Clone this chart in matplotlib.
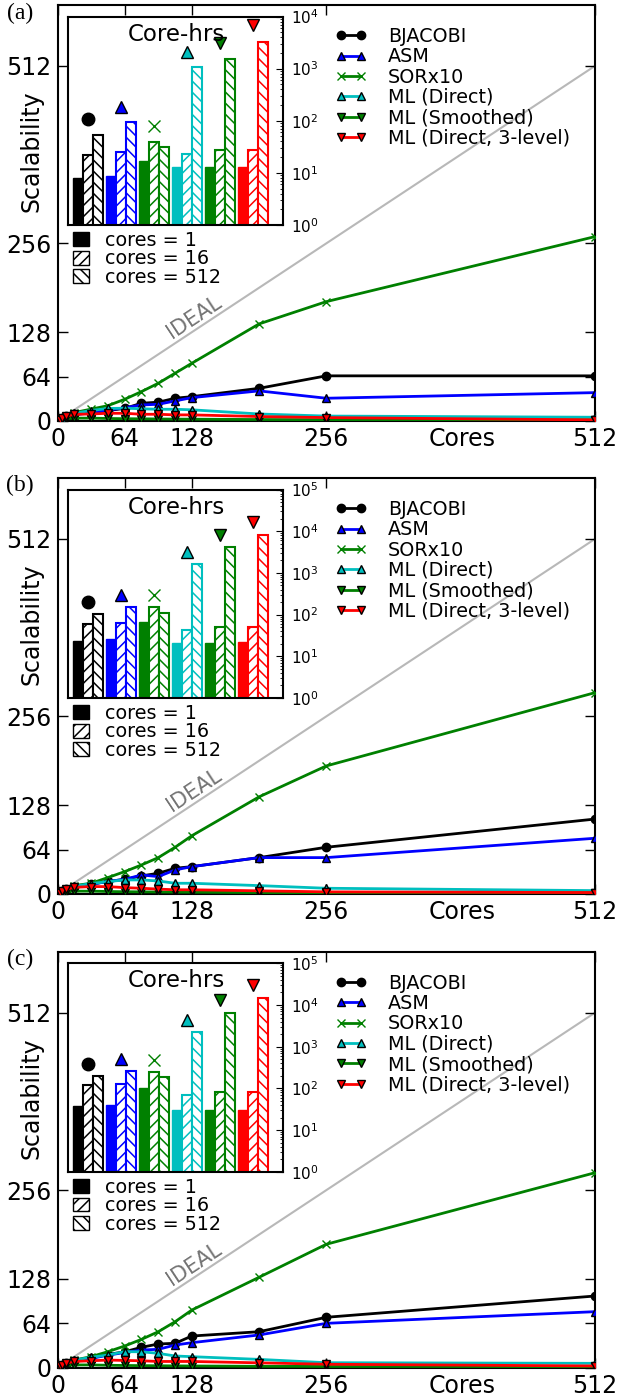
import matplotlib
matplotlib.use('Agg')
import matplotlib.pyplot as plt
from matplotlib.patches import Patch
import numpy as np

# ---------------- data ----------------
cores = [1, 2, 4, 8, 16, 32, 48, 64, 80, 96, 112, 128, 192, 256, 512]
methods = ['BJACOBI', 'ASM', 'SORx10', 'ML (Direct)', 'ML (Smoothed)', 'ML (Direct, 3-level)']
panel_labels = ['(a)', '(b)', '(c)']
x_ticks = [0, 64, 128, 256, 512]
y_ticks = [0, 64, 128, 256, 512]
ideal_x = [0, 512]
ideal_y = [0, 512]
bar_core_labels = ['cores = 1', 'cores = 16', 'cores = 512']

# panel (a) scalability
a_bjacobi = [1, 2, 3.9, 7, 9.5, 12, 15, 18, 25.5, 27, 32.7, 35, 47, 65, 65]
a_asm = [1, 2, 3.8, 6.8, 9, 11.5, 15.5, 19, 23, 24, 28.8, 33.6, 43.3, 32.7, 40.8]
a_sor = [1, 2, 3.8, 7, 12, 17, 22, 31.2, 42.3, 54.3, 68.8, 83.2, 139.9, 172, 265.8]
a_mld = [1, 2, 3.8, 7, 11, 15, 18, 18.3, 17.5, 16.8, 16.8, 16, 10, 7, 5.3]
a_mls = [1, 1.6, 2.5, 3.5, 4, 4, 3.5, 3.2, 3, 2.8, 2.6, 2.5, 2, 1.8, 1.5]
a_mld3 = [1, 2, 3.7, 6.5, 9.5, 10, 11, 11, 9.6, 9.6, 8.7, 8.7, 6.3, 4.8, 1.5]

# panel (b) scalability
b_bjacobi = [1, 2, 3.9, 7, 10, 14, 18, 21, 26, 29.8, 37, 39.4, 52.4, 67.3, 108]
b_asm = [1, 2, 3.9, 7, 10, 14, 18, 21, 27.4, 25, 34.6, 39.4, 52.4, 52.4, 80.3]
b_sor = [1, 2, 3.9, 7, 12, 15.4, 23.6, 32.2, 41.8, 52.4, 67.3, 84, 140, 184.6, 290.3]
b_mld = [1, 2, 3.8, 7, 11, 15, 17.8, 20.2, 20.2, 18.7, 15.4, 15.4, 12, 8.2, 4.8]
b_mls = [1, 1.6, 2.5, 3.5, 4, 4, 3.5, 3.2, 3, 2.8, 2.6, 2.5, 2, 1.8, 1.5]
b_mld3 = [1, 2, 3.7, 6.5, 9.5, 10.6, 10.6, 9.1, 8.2, 7, 6, 6, 4.5, 3, 2]

# panel (c) scalability
c_bjacobi = [1, 2, 3.9, 7, 10, 14, 19, 23, 29.4, 34.2, 35.2, 45.7, 51.9, 72.7, 103.4]
c_asm = [1, 2, 3.9, 7, 10, 13.5, 18, 22, 25.5, 26.5, 32.7, 36.1, 47.2, 64, 80.8]
c_sor = [1, 2, 3.9, 7, 11, 15.9, 23.1, 31.3, 40.9, 51.9, 66.3, 83.2, 130.4, 178, 281.2]
c_mld = [1, 2, 3.8, 7, 11, 15, 18.3, 23.1, 23, 20.7, 16.9, 15.9, 12, 7.2, 6.3]
c_mls = [1, 1.6, 2.5, 3.5, 4, 4, 3.5, 3.2, 3, 2.8, 2.6, 2.5, 2, 1.8, 1.5]
c_mld3 = [1, 2, 3.7, 6.5, 9, 10, 11, 10.5, 10, 9, 9, 9, 7, 5, 2.5]

# core-hours insets (per method)
a_ch1 = [7.8, 8.7, 16.8, 12.9, 12.9, 12.9]
a_ch16 = [22.5, 25, 39, 23.5, 27.7, 27.7]
a_ch512 = [54, 95, 31.5, 1070, 1510, 3310]
a_chmark = [107, 184, 79, 2080, 3100, 6740]

b_ch1 = [22.8, 25.5, 65.3, 20.4, 20.4, 21.5]
b_ch16 = [59.6, 61.8, 153, 42.7, 51.4, 51.4]
b_ch512 = [106, 153, 112, 1633, 4110, 8010]
b_chmark = [202, 292, 292, 3120, 8160, 16500]

c_ch1 = [38.8, 41, 101, 31, 31, 31]
c_ch16 = [120, 129, 242, 71, 83, 83]
c_ch512 = [197, 265, 187, 2260, 6490, 14600]
c_chmark = [377, 516, 471, 4320, 13100, 30100]

inset_top = [1e4, 1e5, 1e5]

# ---------------- styles ----------------
colors = ['k', 'b', 'g', 'c', 'g', 'r']
markers = ['o', '^', 'x', '^', 'v', 'v']
mecs = ['k', 'k', 'g', 'k', 'k', 'k']

plt.rcParams['hatch.linewidth'] = 1.1

panels = [
    ([a_bjacobi, a_asm, a_sor, a_mld, a_mls, a_mld3], [a_ch1, a_ch16, a_ch512], a_chmark),
    ([b_bjacobi, b_asm, b_sor, b_mld, b_mls, b_mld3], [b_ch1, b_ch16, b_ch512], b_chmark),
    ([c_bjacobi, c_asm, c_sor, c_mld, c_mls, c_mld3], [c_ch1, c_ch16, c_ch512], c_chmark),
]

fig = plt.figure(figsize=(6.19, 13.97), dpi=100)
bottoms = [0.6987, 0.3601, 0.02097]
label_y = [1 - 13 / 1397, 1 - 485 / 1397, 1 - 959 / 1397]

hatches = [None, '///', '\\\\\\']

for p, (series, bars, marks) in enumerate(panels):
    ax = fig.add_axes([0.0929, bottoms[p], 0.8683, 0.2978])
    ax.plot(ideal_x, ideal_y, color='0.72', lw=1.5, zorder=1)
    handles = []
    for k, vals in enumerate(series):
        ln, = ax.plot(cores, vals, color=colors[k], marker=markers[k], mfc=colors[k],
                      mec=mecs[k], lw=2, ms=6, mew=1, label=methods[k], zorder=2 + k)
        handles.append(ln)
    ax.set_xlim(0, 512)
    ax.set_ylim(0, 600)
    ax.set_xticks(x_ticks)
    ax.set_yticks(y_ticks)
    ax.tick_params(direction='in', length=7, width=1, top=True, right=True,
                   labelsize=17, pad=4.5)
    for s in ax.spines.values():
        s.set_linewidth(1.5)
    ax.set_ylabel('Scalability', fontsize=17)
    ax.yaxis.set_label_coords(-0.0264, 0.648)
    ax.set_xlabel('Cores', fontsize=17)
    ax.xaxis.set_label_coords(0.752, -0.0144)
    ax.text(130, 149, 'IDEAL', rotation=33.4, color='0.45', fontsize=15,
            ha='center', va='center', rotation_mode='anchor')

    leg1 = ax.legend(handles, methods, loc='upper left', bbox_to_anchor=(0.516, 0.947),
                     frameon=False, borderaxespad=0, borderpad=0, numpoints=2,
                     handlelength=1.68, handletextpad=1.1, labelspacing=0.07,
                     fontsize=13.75)
    ax.add_artist(leg1)
    patch_handles = [Patch(facecolor='k', edgecolor='k'),
                     Patch(facecolor='w', edgecolor='k', hatch='///'),
                     Patch(facecolor='w', edgecolor='k', hatch='\\\\\\')]
    ax.legend(patch_handles, bar_core_labels, loc='upper left',
              bbox_to_anchor=(0.028, 0.4567), frameon=False, borderaxespad=0,
              borderpad=0, handlelength=0.88, handleheight=0.73,
              handletextpad=0.83, labelspacing=-0.03, fontsize=13.75)

    # inset
    ins = ax.inset_axes([0.0195, 0.471, 0.4, 0.501])
    ins.set_zorder(20)
    idx = np.arange(len(methods))
    for j in range(3):
        left = idx + 0.15 + 0.3 * j
        for i in idx:
            if j == 0:
                ins.bar(left[i], bars[j][i], width=0.3, align='edge', bottom=0,
                        color=colors[i], edgecolor=colors[i], lw=1)
            else:
                ins.bar(left[i], bars[j][i], width=0.3, align='edge', bottom=0,
                        facecolor='w', edgecolor=colors[i], hatch=hatches[j], lw=1.5)
    for i in idx:
        ins.plot([i + 0.6], [marks[i]], marker=markers[i], color=colors[i],
                 mfc=colors[i], mec=mecs[i], ms=9, mew=1, ls='none', clip_on=False)
    ins.set_yscale('log')
    ins.set_ylim(1, inset_top[p])
    ins.set_xlim(0, 6.5)
    ins.set_xticks([])
    ins.yaxis.tick_right()
    ins.tick_params(axis='y', which='both', direction='in', labelsize=11, pad=6)
    ins.tick_params(axis='y', which='major', length=5)
    ins.tick_params(axis='y', which='minor', length=2.5)
    for s in ins.spines.values():
        s.set_linewidth(1.5)
    ins.text(0.505, 0.885, 'Core-hrs', transform=ins.transAxes, ha='center',
             va='baseline', fontsize=16.5)

    fig.text(20 / 619, label_y[p], panel_labels[p], family='Liberation Serif',
             fontsize=17, ha='center', va='center')

fig.savefig('out.png', dpi=100)
